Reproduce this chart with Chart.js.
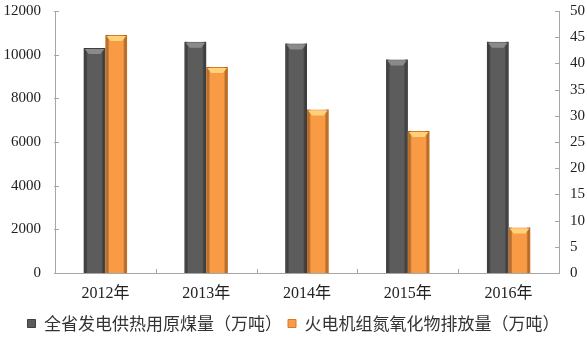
<!DOCTYPE html>
<html>
<head>
<meta charset="utf-8">
<script src="https://cdn.jsdelivr.net/npm/chart.js@4.4.0/dist/chart.umd.min.js"></script>
<style>
  html, body { margin: 0; padding: 0; background: #fff; }
  #wrap { width: 587px; height: 342px; }
</style>
</head>
<body>
<div id="wrap"><canvas id="chart"></canvas></div>
<script>
const years = ["2012年", "2013年", "2014年", "2015年", "2016年"];
const coal = [10300, 10590, 10510, 9780, 10590];
const nox = [45.4, 39.3, 31.2, 27.1, 8.7];
const leftTicks = [0, 2000, 4000, 6000, 8000, 10000, 12000];
const rightTicks = [0, 5, 10, 15, 20, 25, 30, 35, 40, 45, 50];

const serif = "'Liberation Serif', 'Noto Sans CJK SC', serif";
const edgeColors = ["#454545", "#e07f28"];
const capColors = ["#8a8a8a", "#ffd27a"];

// little tick marks pointing into the plot, plus the right-hand labels
const innerTicks = {
  id: "innerTicks",
  afterDraw(chart) {
    const ctx = chart.ctx;
    const a = chart.chartArea;
    ctx.save();
    ctx.strokeStyle = "#a6a6a6";
    ctx.lineWidth = 1;
    ctx.beginPath();
    const yl = chart.scales.y;
    yl.ticks.forEach((t, i) => {
      const y = Math.round(yl.getPixelForTick(i)) + 0.5;
      ctx.moveTo(a.left - 1, y); ctx.lineTo(a.left + 4, y);
    });
    const yr = chart.scales.y2;
    yr.ticks.forEach((t, i) => {
      const y = Math.round(yr.getPixelForTick(i)) + 0.5;
      ctx.moveTo(a.right - 4, y); ctx.lineTo(a.right + 1, y);
    });
    const step = (a.right - a.left) / years.length;
    for (let i = 1; i < years.length; i++) {
      const px = Math.round(a.left + step * i) + 0.5;
      ctx.moveTo(px, a.bottom); ctx.lineTo(px, a.bottom - 4);
    }
    ctx.stroke();

    ctx.fillStyle = "#222";
    ctx.font = "15px " + serif;
    ctx.textAlign = "left";
    ctx.textBaseline = "middle";
    rightTicks.forEach(v => {
      ctx.fillText(String(v), a.right + 11, yr.getPixelForValue(v));
    });
    ctx.restore();
  }
};

// darker side edges and a light bevel on top of each bar
const bevel = {
  id: "bevel",
  afterDatasetsDraw(chart) {
    const ctx = chart.ctx;
    ctx.save();
    chart.data.datasets.forEach((ds, di) => {
      chart.getDatasetMeta(di).data.forEach(bar => {
        const p = bar.getProps(["x", "y", "base", "width"], true);
        const l = p.x - p.width / 2, r = p.x + p.width / 2;
        const g = ctx.createLinearGradient(l, 0, r, 0);
        g.addColorStop(0, edgeColors[di]);
        g.addColorStop(0.18, "rgba(0,0,0,0)");
        g.addColorStop(0.82, "rgba(0,0,0,0)");
        g.addColorStop(1, edgeColors[di]);
        ctx.fillStyle = g;
        ctx.fillRect(l, p.y, p.width, p.base - p.y);
        ctx.fillStyle = capColors[di];
        ctx.beginPath();
        ctx.moveTo(l + 1, p.y + 1);
        ctx.lineTo(r - 1, p.y + 1);
        ctx.lineTo(r - 5, p.y + 6);
        ctx.lineTo(l + 5, p.y + 6);
        ctx.closePath();
        ctx.fill();
      });
    });
    ctx.restore();
  }
};

new Chart(document.getElementById("chart"), {
  type: "bar",
  data: {
    labels: years,
    datasets: [
      {
        label: "全省发电供热用原煤量（万吨）",
        data: coal,
        yAxisID: "y",
        backgroundColor: "#5c5c5c",
        borderColor: "#3f3f3f",
        borderWidth: 1,
        categoryPercentage: 0.43,
        barPercentage: 1
      },
      {
        label: "火电机组氮氧化物排放量（万吨）",
        data: nox,
        yAxisID: "y2",
        backgroundColor: "#f99b45",
        borderColor: "#d9782a",
        borderWidth: 1,
        categoryPercentage: 0.43,
        barPercentage: 1
      }
    ]
  },
  options: {
    responsive: true,
    maintainAspectRatio: false,
    animation: false,
    layout: { padding: { top: 11, right: 0, left: 0, bottom: 0 } },
    plugins: {
      tooltip: { enabled: false },
      legend: {
        position: "bottom",
        labels: {
          color: "#333",
          font: { family: "'Noto Sans CJK SC', sans-serif", size: 17 },
          boxWidth: 8,
          boxHeight: 8,
          padding: 6
        }
      }
    },
    scales: {
      x: {
        grid: { display: false, drawTicks: false },
        border: { color: "#a6a6a6" },
        ticks: { color: "#222", font: { family: serif, size: 16 }, padding: 11 },
        afterFit(s) { s.height = 36; }
      },
      y: {
        position: "left",
        min: 0, max: 12000,
        afterBuildTicks(s) { s.ticks = leftTicks.map(v => ({ value: v })); },
        grid: { display: false, drawTicks: false },
        border: { color: "#a6a6a6" },
        ticks: {
          color: "#222", font: { family: serif, size: 15 }, padding: 14,
          callback: v => String(v)
        },
        afterFit(s) { s.width = 55; s.paddingTop = 0; s.paddingBottom = 0; }
      },
      y2: {
        position: "right",
        min: 0, max: 50,
        afterBuildTicks(s) { s.ticks = rightTicks.map(v => ({ value: v })); },
        grid: { display: false, drawTicks: false },
        border: { color: "#a6a6a6" },
        ticks: { display: false },
        afterFit(s) { s.width = 28; s.paddingTop = 0; s.paddingBottom = 0; }
      }
    }
  },
  plugins: [innerTicks, bevel]
});
</script>
</body>
</html>
